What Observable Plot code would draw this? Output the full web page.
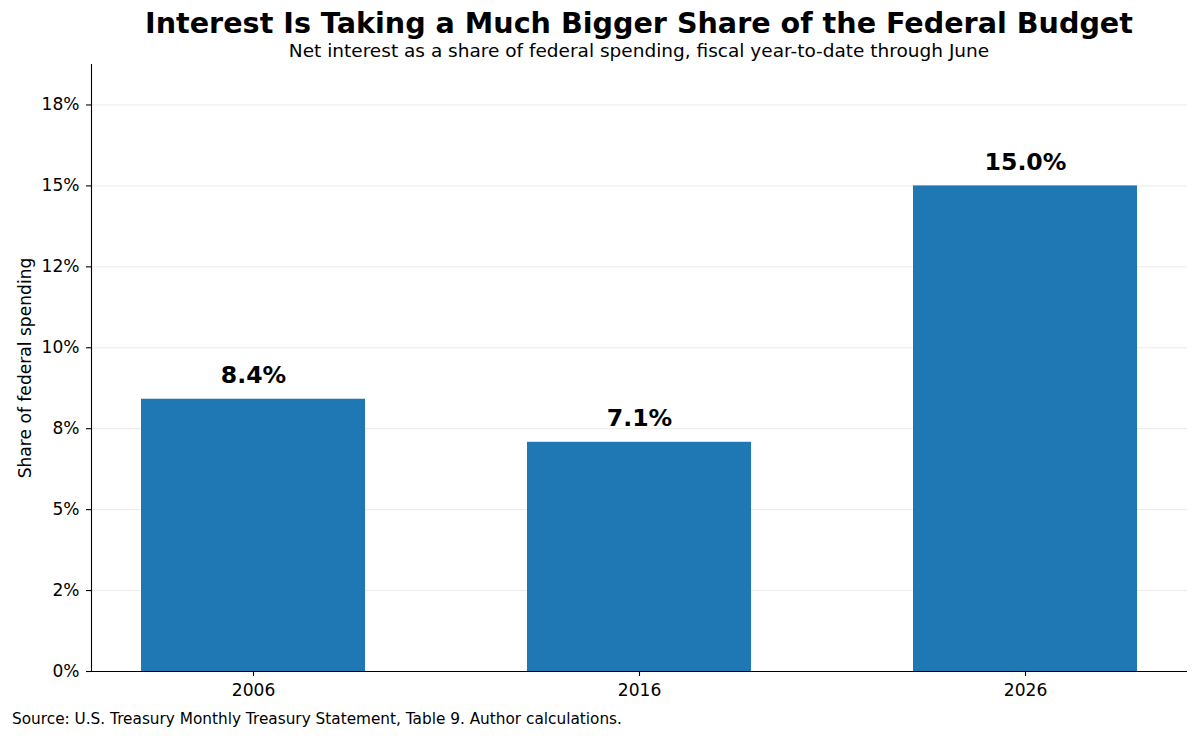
<!DOCTYPE html>
<html>
<head>
<meta charset="utf-8">
<script src="https://cdn.jsdelivr.net/npm/d3@7"></script>
<script src="https://cdn.jsdelivr.net/npm/@observablehq/plot@0.6"></script>
<style>
  html, body { margin: 0; padding: 0; background: #fff; }
  body { font-family: "DejaVu Sans", sans-serif; width: 1200px; height: 741px; overflow: hidden; color: #000; }
  #head { position: relative; height: 56px; }
  #title { position: absolute; left: 91px; width: 1096px; top: 11px; text-align: center; font-weight: bold; font-size: 28.6px; line-height: 24px; white-space: nowrap; }
  #subtitle { position: absolute; left: 91px; width: 1096px; top: 42.5px; text-align: center; font-size: 18.5px; line-height: 16px; white-space: nowrap; }
  #chart svg { display: block; }
  #caption { padding-left: 12px; margin-top: 7px; font-size: 15.3px; line-height: 15.3px; white-space: nowrap; }
</style>
</head>
<body>
<div id="head">
  <div id="title">Interest Is Taking a Much Bigger Share of the Federal Budget</div>
  <div id="subtitle">Net interest as a share of federal spending, fiscal year-to-date through June</div>
</div>
<div id="chart"></div>
<div id="caption">Source: U.S. Treasury Monthly Treasury Statement, Table 9. Author calculations.</div>
<script>
// Data
const years = ["2006", "2016", "2026"];
const shares = [8.41, 7.08, 15.0];
const yTicks = [0, 2.5, 5, 7.5, 10, 12.5, 15, 17.5];
const yTickLabels = ["0%", "2%", "5%", "8%", "10%", "12%", "15%", "18%"];
const yLabel = "Share of federal spending";

const data = years.map((year, i) => ({year, share: shares[i]}));

const chart = Plot.plot({
  width: 1200,
  height: 649,
  marginTop: 8,
  marginBottom: 34,
  marginLeft: 91,
  marginRight: 13,
  style: { fontFamily: "DejaVu Sans, sans-serif", background: "#fff", color: "#000", overflow: "visible" },
  x: { type: "band", domain: years, paddingInner: 0.42, paddingOuter: 0.129, align: 0.5, label: null },
  y: { domain: [0, 18.75], label: null },
  marks: [
    Plot.gridY(yTicks, { stroke: "#ebebeb", strokeOpacity: 1, strokeWidth: 1 }),
    Plot.barY(data, { x: "year", y: "share", fill: "#1f77b4" }),
    Plot.text(data, {
      x: "year", y: "share",
      text: d => d.share.toFixed(1) + "%",
      lineAnchor: "bottom", dy: -16,
      fontSize: 23.6, fontWeight: "bold", fill: "#000"
    }),
    Plot.axisY(yTicks, {
      tickFormat: d => yTickLabels[yTicks.indexOf(d)],
      tickSize: 5, tickPadding: 7, fontSize: 17.1, label: null, strokeWidth: 1.1
    }),
    Plot.axisX({ tickSize: 5, tickPadding: 7, fontSize: 17.1, label: null, strokeWidth: 1.1 }),
    Plot.frame({ anchor: "left", stroke: "#000", strokeWidth: 1.1 }),
    Plot.ruleY([0], { stroke: "#000", strokeWidth: 1.1 }),
    Plot.text([yLabel], {
      text: d => d, frameAnchor: "left", rotate: -90,
      dx: -61, lineAnchor: "bottom", textAnchor: "middle",
      fontSize: 17.1, fill: "#000"
    })
  ]
});
document.getElementById("chart").appendChild(chart);
</script>
</body>
</html>
